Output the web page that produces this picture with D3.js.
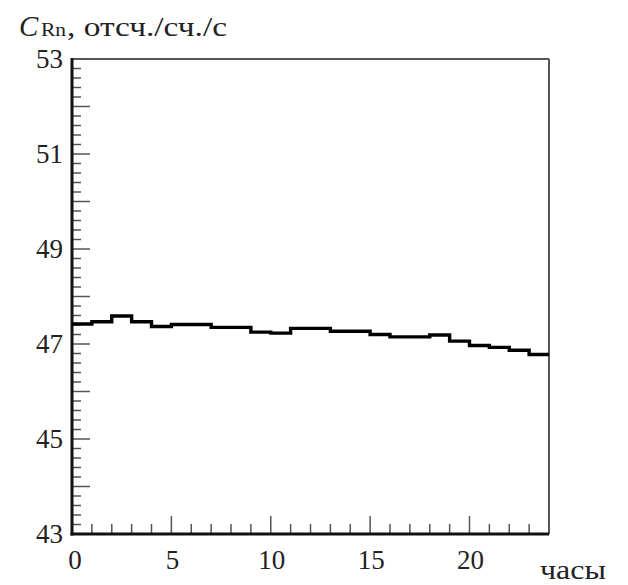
<!DOCTYPE html>
<html>
<head>
<meta charset="utf-8">
<script src="https://cdn.jsdelivr.net/npm/d3@7"></script>
<style>
  html, body { margin: 0; padding: 0; background: #fff; }
  svg { display: block; }
  text { font-family: "Liberation Serif", "DejaVu Serif", serif; fill: #222; }
</style>
</head>
<body>
<svg id="chart" width="628" height="585"></svg>
<script>
// Data: hourly radon count rate (histogram, 1-hour bins)
const hours = d3.range(0, 24);
const rate = [47.42, 47.47, 47.59, 47.47, 47.37, 47.41, 47.41, 47.35, 47.35, 47.25,
              47.23, 47.33, 47.33, 47.27, 47.27, 47.20, 47.15, 47.15, 47.19, 47.06,
              46.97, 46.93, 46.87, 46.78];
const yTickLabels = [43, 45, 47, 49, 51, 53];
const xTickLabels = [0, 5, 10, 15, 20];
const xDomain = [0, 24];
const yDomain = [43, 53];

const svg = d3.select("#chart");
const L = 72, R = 549, T = 59, B = 534;

const x = d3.scaleLinear().domain(xDomain).range([L, R]);
const y = d3.scaleLinear().domain(yDomain).range([B, T]);

// frame: top and right (lighter)
svg.append("line").attr("x1", L).attr("x2", R).attr("y1", T).attr("y2", T)
  .attr("stroke", "#555").attr("stroke-width", 2);
svg.append("line").attr("x1", R).attr("x2", R).attr("y1", T).attr("y2", B)
  .attr("stroke", "#555").attr("stroke-width", 2);

// Y axis ticks (inward)
const yMinor = d3.range(0, 51).map(i => 43 + i * 0.2).filter(v => Math.abs(v - Math.round(v)) > 1e-6);
const yMajor = d3.range(43, 54);
const gy = svg.append("g");
gy.selectAll("line.mi").data(yMinor).join("line")
  .attr("x1", L).attr("x2", L + 9)
  .attr("y1", d => y(d)).attr("y2", d => y(d))
  .attr("stroke", "#555").attr("stroke-width", 1.5);
gy.selectAll("line.ma").data(yMajor).join("line")
  .attr("x1", L).attr("x2", L + 18)
  .attr("y1", d => y(d)).attr("y2", d => y(d))
  .attr("stroke", "#555").attr("stroke-width", 1.5);
gy.selectAll("text").data(yTickLabels).join("text")
  .attr("x", L - 9).attr("y", d => y(d))
  .attr("dy", "0.35em")
  .attr("text-anchor", "end")
  .attr("font-size", 27)
  .text(d => d);

// X axis ticks (inward)
const xMinor = d3.range(1, 24).filter(v => v % 5 !== 0);
const xMajor = d3.range(5, 24, 5);
const gx = svg.append("g");
gx.selectAll("line.mi").data(xMinor).join("line")
  .attr("x1", d => x(d)).attr("x2", d => x(d))
  .attr("y1", B).attr("y2", B - 10)
  .attr("stroke", "#555").attr("stroke-width", 1.5);
gx.selectAll("line.ma").data(xMajor).join("line")
  .attr("x1", d => x(d)).attr("x2", d => x(d))
  .attr("y1", B).attr("y2", B - 18)
  .attr("stroke", "#555").attr("stroke-width", 1.5);
gx.selectAll("text").data(xTickLabels).join("text")
  .attr("x", d => x(d) + (d === 0 ? 3 : 1)).attr("y", 569)
  .attr("text-anchor", "middle")
  .attr("font-size", 27)
  .text(d => d);

// left & bottom axis lines (dark)
svg.append("line").attr("x1", L).attr("x2", L).attr("y1", T - 1).attr("y2", B + 1.5)
  .attr("stroke", "#111").attr("stroke-width", 3);
svg.append("line").attr("x1", L - 1.5).attr("x2", R).attr("y1", B).attr("y2", B)
  .attr("stroke", "#111").attr("stroke-width", 3);

// histogram step line
const pts = hours.map((h, i) => [h, rate[i]]);
pts.push([24, rate[rate.length - 1]]);
const line = d3.line().x(d => x(d[0])).y(d => y(d[1])).curve(d3.curveStepAfter);
svg.append("path").attr("d", line(pts))
  .attr("fill", "none").attr("stroke", "#000").attr("stroke-width", 3.4);

// axis titles
svg.append("text").attr("x", 19).attr("y", 36)
  .attr("font-style", "italic").attr("font-size", 29).text("C");
svg.append("text").attr("x", 41).attr("y", 36)
  .attr("font-size", 19).attr("textLength", 25).attr("lengthAdjust", "spacingAndGlyphs").text("Rn");
svg.append("text").attr("x", 67).attr("y", 36)
  .attr("font-size", 28).attr("textLength", 160).attr("lengthAdjust", "spacingAndGlyphs")
  .text(", отсч./сч./с");

svg.append("text").attr("x", 540).attr("y", 579)
  .attr("font-size", 27).attr("textLength", 66).attr("lengthAdjust", "spacingAndGlyphs").text("часы");
</script>
</body>
</html>
